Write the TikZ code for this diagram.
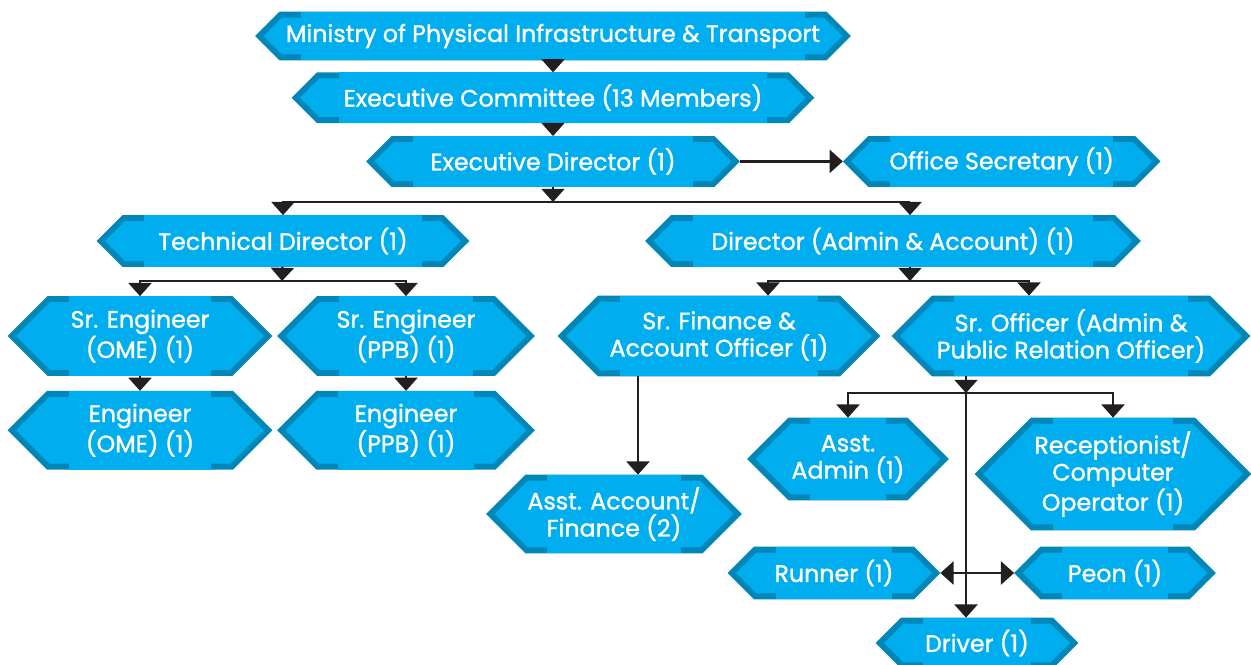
\documentclass[tikz,border=0pt]{standalone}
\usepackage{fontspec}
\setmainfont{Poppins}
\newfontfamily\postfont{Poppins}[BoldFont={Poppins}, BoldFeatures={FakeBold=1.3}]
\usetikzlibrary{arrows.meta,positioning,calc,backgrounds}

\definecolor{postblue}{HTML}{00AEEF}
\definecolor{postdark}{HTML}{0086B7}
\definecolor{wire}{HTML}{231F20}

\tikzset{
    post/.style 2 args={rectangle, inner sep=0pt, text=white, align=center,
        minimum width=#1*0.02cm, minimum height=#2*0.02cm,
        font=\postfont\bfseries\fontsize{13.5}{15.4}\selectfont},
    arr/.style={-{Triangle[width=13pt,length=7.5pt]}, draw=wire, line width=1.5pt},
    arrs/.style={{Triangle[width=13pt,length=7.5pt]}-{Triangle[width=13pt,length=7.5pt]}, draw=wire, line width=1.5pt},
}

\begin{document}
\begin{tikzpicture}[x=0.02cm, y=-0.02cm]
    \clip (0,0) rectangle (1251,664);
    \node [post={595}{48}] (min) at (553,36) {Ministry of Physical Infrastructure \& Transport};
    \node [post={522}{50}, below=0.24cm of min] (com) {Executive Committee (13 Members)};
    \node [post={373}{50}, below=0.26cm of com] (ed) {Executive Director (1)};
    \node [post={317}{50}, right=2.06cm of ed] (sec) {Office Secretary (1)};
    \node [post={372}{51}] (td) at (283,241) {Technical Director (1)};
    \node [post={495}{51}] (dir) at (893,241) {Director (Admin \& Account) (1)};
    \node [post={264}{79}] (seo) at (140,336) {Sr. Engineer\\(OME) (1)};
    \node [post={257}{79}] (sep) at (406,336) {Sr. Engineer\\(PPB) (1)};
    \node [post={264}{78}, below=0.3cm of seo] (eo) {Engineer\\(OME) (1)};
    \node [post={257}{78}, below=0.3cm of sep] (ep) {Engineer\\(PPB) (1)};
    \node [post={322}{80}] (sfa) at (719,336) {Sr. Finance \&\\Account Officer (1)};
    \node [post={358}{80}] (sro) at (1071,336) {Sr. Officer (Admin \&\\Public Relation Officer)};
    \node [post={255}{78}] (aaf) at (614,514) {Asst. Account/\\Finance (2)};
    \node [post={201}{82}] (aad) at (848,459) {Asst.\\Admin (1)};
    \node [post={276}{112}] (rec) at (1113,474) {Receptionist/\\Computer\\Operator (1)};
    \node [post={212}{52}] (run) at (834,573) {Runner (1)};
    \node [post={201}{52}] (peo) at (1115,573) {Peon (1)};
    \node [post={202}{50}] (drv) at (977,643) {Driver (1)};

    % hexagon plates behind the texts
    \begin{scope}[on background layer]
        \foreach \b in {min,com,ed,sec,td,dir,seo,sep,eo,ep,sfa,sro,aaf,aad,rec,run,peo,drv} {
            \fill [postdark] let \p1=(\b.north west), \p2=(\b.south east), \n1={(\y1-\y2)/2}, \n2={(\y1+\y2)/2} in
                (\x1,\n2) -- (\x1+\n1,\y1) -- (\x2-\n1,\y1) -- (\x2,\n2) -- (\x2-\n1,\y2) -- (\x1+\n1,\y2) -- cycle;
            \fill [postblue] let \p1=(\b.north west), \p2=(\b.south east), \n1={(\y1-\y2)/2} in
                (\x1+\n1+12.5pt,\y1) rectangle (\x2-\n1-12.5pt,\y2);
            \fill [postblue] let \p1=(\b.north west), \p2=(\b.south east), \n1={(\y1-\y2)/2}, \n2={(\y1+\y2)/2} in
                (\x1+4.8pt,\n2) -- (\x1+\n1+1.4pt,\y1-3.4pt) -- (\x2-\n1-1.4pt,\y1-3.4pt) -- (\x2-4.8pt,\n2)
                -- (\x2-\n1-1.4pt,\y2+3.4pt) -- (\x1+\n1+1.4pt,\y2+3.4pt) -- cycle;
        }
    \end{scope}

    % junctions
    \coordinate (edj) at (553,202);
    \coordinate (dirj) at (910,202);
    \coordinate (tdj) at (282,281);
    \coordinate (dirk) at (910,281);
    \coordinate (sfaj) at (768,281);
    \coordinate (sroj) at (1029,281);
    \coordinate (aafj) at (638,0);
    \coordinate (srok) at (966,393);

    \draw [arr] (min) -- (com);
    \draw [arr] (com) -- (ed);
    \draw [arr] (ed) -- (sec);
    \draw [arr] (ed) -- (edj);
    \draw [arr] (dirj) -| (td);
    \draw [arr] (dirj) -- (dir.north -| dirj);
    \draw [arr] (td) -- (tdj);
    \draw [arr] (tdj) -| (seo);
    \draw [arr] (tdj) -| (sep);
    \draw [arr] (seo) -- (eo);
    \draw [arr] (sep) -- (ep);
    \draw [arr] (dir.south -| dirk) -- (dirk);
    \draw [arr] (dirk) -| (sfa.north -| sfaj);
    \draw [arr] (dirk) -| (sro.north -| sroj);
    \draw [arr] (sfa.south -| aafj) -- (aaf.north -| aafj);
    \draw [arr] (sro.south -| srok) -- (srok);
    \draw [arr] (srok) -| (aad);
    \draw [arr] (srok) -| (rec);
    \draw [arr] (srok) -- (drv.north -| srok);
    \draw [arrs] (run) -- (peo);
\end{tikzpicture}
\end{document}
